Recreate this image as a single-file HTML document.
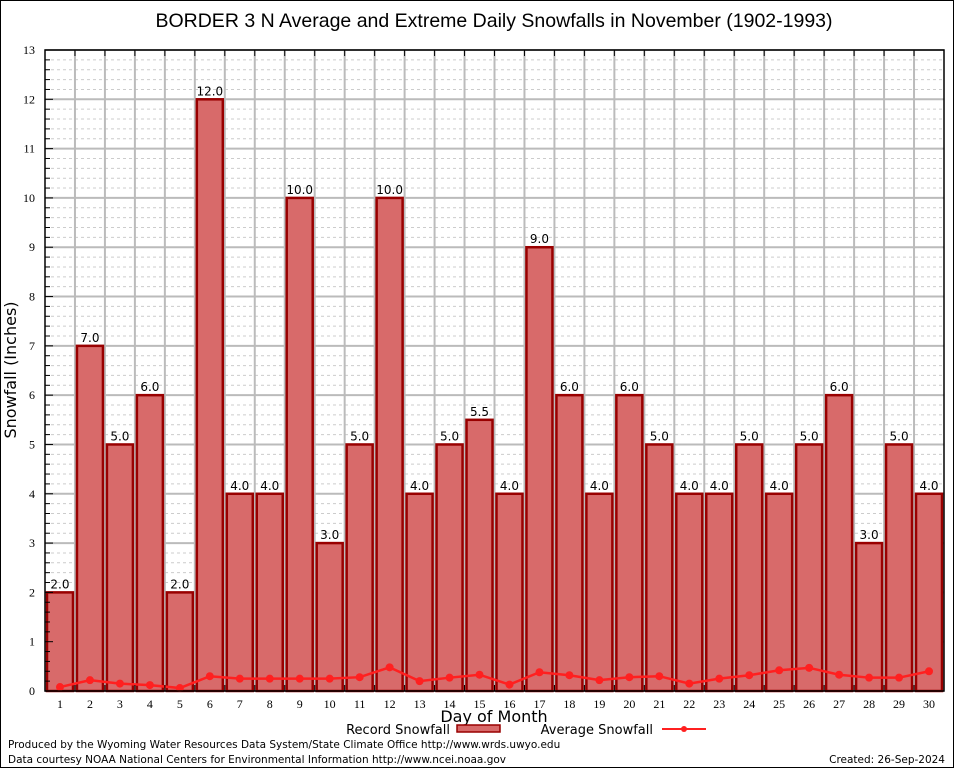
<!DOCTYPE html>
<html><head><meta charset="utf-8"><style>
body{margin:0;background:#fff}
svg{display:block;font-family:"DejaVu Sans","Liberation Sans",sans-serif}
</style></head><body>
<svg id="c" width="954" height="768" viewBox="0 0 954 768" xmlns="http://www.w3.org/2000/svg">
<rect x="0.5" y="0.5" width="953" height="767" fill="#fff" stroke="#000"/>
<text x="494" y="27" font-size="19.5" text-anchor="middle" font-family="Liberation Sans, sans-serif">BORDER 3 N Average and Extreme Daily Snowfalls in November (1902-1993)</text>
<g id="grid"></g>
<g id="bars"></g>
<g id="labels"></g>
<g id="avg"></g>
<g id="axes"></g>
<text transform="translate(16,370) rotate(-90)" font-size="16" text-anchor="middle">Snowfall (Inches)</text>
<text x="494" y="722" font-size="16" text-anchor="middle">Day of Month</text>
<g>
<text x="450" y="734" font-size="13" text-anchor="end">Record Snowfall</text>
<rect x="457" y="725" width="43" height="7" fill="#d86a6a" stroke="#990000" stroke-width="1.5"/>
<text x="653" y="734" font-size="13" text-anchor="end">Average Snowfall</text>
<line x1="662" y1="729" x2="706" y2="729" stroke="#ff2020" stroke-width="2"/>
<circle cx="684" cy="729" r="3" fill="#ff2020"/>
</g>
<text x="8" y="748" font-size="10.5">Produced by the Wyoming Water Resources Data System/State Climate Office http://www.wrds.uwyo.edu</text>
<text x="8" y="763" font-size="10.5">Data courtesy NOAA National Centers for Environmental Information http://www.ncei.noaa.gov</text>
<text x="945" y="763" font-size="10.5" text-anchor="end">Created: 26-Sep-2024</text>
</svg>
<script>
const days=[1,2,3,4,5,6,7,8,9,10,11,12,13,14,15,16,17,18,19,20,21,22,23,24,25,26,27,28,29,30];
const records=[2,7,5,6,2,12,4,4,10,3,5,10,4,5,5.5,4,9,6,4,6,5,4,4,5,4,5,6,3,5,4];
const averages=[0.08,0.22,0.15,0.12,0.06,0.3,0.25,0.25,0.25,0.25,0.28,0.48,0.2,0.27,0.33,0.13,0.38,0.32,0.22,0.28,0.3,0.15,0.25,0.32,0.42,0.47,0.33,0.27,0.27,0.4];
const yTicks=[0,1,2,3,4,5,6,7,8,9,10,11,12,13];
const L=45,R=944,T=50,B=691,YMAX=13;
const slot=(R-L)/days.length;
const xc=d=>L+slot*(d-0.5);
const y=v=>B-(v/YMAX)*(B-T);
const NS='http://www.w3.org/2000/svg';
function mk(t,a,p){const e=document.createElementNS(NS,t);for(const k in a)e.setAttribute(k,a[k]);p.appendChild(e);return e;}
const grid=document.getElementById('grid'),bars=document.getElementById('bars'),labels=document.getElementById('labels'),avg=document.getElementById('avg'),axes=document.getElementById('axes');
for(let v=0.2;v<YMAX;v+=0.2){const g=mk('line',{x1:L,x2:R,y1:y(v),y2:y(v),stroke:'#ccc','stroke-width':1,'stroke-dasharray':'3,3'},grid);

}
yTicks.forEach(v=>{const g=mk('line',{x1:L,x2:R,y1:y(v),y2:y(v),stroke:'#bbb','stroke-width':2},grid);


const t=mk('text',{x:L-10,y:y(v)+4,'font-size':12,'text-anchor':'end','font-family':'Liberation Serif, serif'},axes);t.textContent=v;

});
for(let i=1;i<days.length;i++){const g=mk('line',{x1:L+slot*i,x2:L+slot*i,y1:T,y2:B,stroke:'#bbb','stroke-width':2},grid);


mk('line',{x1:L+slot*i,x2:L+slot*i,y1:B,y2:B-6,stroke:'#000'},axes);
mk('line',{x1:L+slot*i,x2:L+slot*i,y1:T,y2:T+6,stroke:'#000'},axes);}
for(let v=0;v<=YMAX;v+=0.2){const w=Math.abs(v-Math.round(v))<1e-6?8:5;mk('line',{x1:L,x2:L+w,y1:y(v),y2:y(v),stroke:'#000'},axes);}
days.forEach((d,i)=>{const x=xc(d),v=records[i];
const b=mk('rect',{x:x-13,y:y(v),width:26,height:B-y(v),fill:'#d86a6a',stroke:'#990000','stroke-width':2.5},bars);


const t=mk('text',{x:x,y:y(v)-4,'font-size':12,'text-anchor':'middle'},labels);t.textContent=v.toFixed(1);


const xl=mk('text',{x:x,y:B+17,'font-size':12,'text-anchor':'middle','font-family':'Liberation Serif, serif'},axes);xl.textContent=d;

});
const pl=mk('polyline',{points:days.map((d,i)=>xc(d)+','+y(averages[i])).join(' '),fill:'none',stroke:'#ff2020','stroke-width':2.5},avg);


days.forEach((d,i)=>{const c=mk('circle',{cx:xc(d),cy:y(averages[i]),r:4,fill:'#ff2020'},avg);

});
const f=mk('rect',{x:L,y:T,width:R-L,height:B-T,fill:'none',stroke:'#000','stroke-width':1.5},axes);


</script>
</body></html>
